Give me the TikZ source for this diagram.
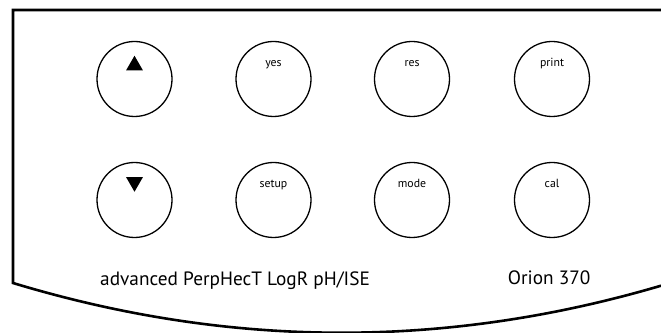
\documentclass[tikz,border=0pt]{standalone}
\usepackage{fontspec}
\setmainfont{PT Sans}
\usetikzlibrary{shapes.geometric}

\begin{document}
\begin{tikzpicture}
        [%%%%%%%%%%%%%%%%%%%%%%%%%%%%%%
        x=1pt, y=1pt,
        outline/.style={line width=2.6pt, line join=miter},
        button/.style={circle, draw=black, line width=1.3pt, minimum size=75pt, inner sep=0pt},
        keytext/.style={font=\fontsize{11.8}{13}\selectfont, inner sep=0pt, anchor=base},
        arrowkey/.style={regular polygon, regular polygon sides=3, fill=black, inner sep=0pt, minimum size=19.5pt},
        caption/.style={font=\fontsize{19.3}{22}\selectfont, inner sep=0pt, anchor=base west},
        ]%%%%%%%%%%%%%%%%%%%%%%%%%%%%%%
        \useasboundingbox (0,0) rectangle (661,332);
        % Housing outline
        \draw[outline] (661,322) -- (13,322) -- (13,49)
            .. controls (229,-16.4) and (445,-17.3) .. (661,46.3);
        % Buttons
        % TOP ROW
        \foreach \name/\x in {up/134.5, yes/273.5, res/412, print/552}{
            \node[button] (\name) at (\x,253) {};
        }
        % BOTTOM ROW
        \foreach \name/\x in {down/134.5, setup/273.5, mode/412, cal/552}{
            \node[button] (\name) at (\x,132) {};
        }
        % Arrow keys
        \node[arrowkey] (uparrow) at ([yshift=13.5]up.center) {};
        \node[arrowkey, shape border rotate=180] (downarrow) at ([yshift=18]down.center) {};
        % Key labels
        \foreach \name in {yes,res,print,setup,mode,cal}{
            \node[keytext] (\name-lab) at ([yshift=12]\name.center) {\name};
        }
        % Text
        \node[caption] (series) at (100,46) {advanced PerpHecT LogR pH/ISE};
        \node[caption] (model) at (507.7,47) {Orion 370};
      \end{tikzpicture}
\end{document}
